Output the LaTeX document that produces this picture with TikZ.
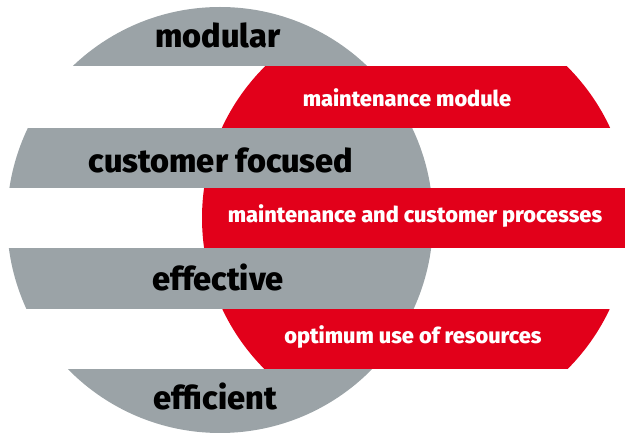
\documentclass[tikz,border=0pt]{standalone}
\usepackage{fontspec}
\setmainfont{Fira Sans}[BoldFont={Fira Sans ExtraBold}]
\definecolor{bandgray}{HTML}{9BA3A7}
\definecolor{bandred}{HTML}{E2001A}

\begin{document}
\begin{tikzpicture}[x=1pt,y=-1pt,
  graytext/.style={anchor=base,inner sep=0pt,text=black,font=\fontsize{32.5}{32.5}\selectfont\bfseries},
  redtext/.style={anchor=base,inner sep=0pt,text=white,font=\fontsize{21.8}{21.8}\selectfont\bfseries}]

\useasboundingbox (0,0) rectangle (625,435);
\clip (0,0) rectangle (625,435);

% grey disc, cut in bands
\begin{scope}
\clip (220,220) circle [radius=213pt];
\fill[bandgray] (0,0) rectangle (625,66);
\fill[bandgray] (0,128) rectangle (625,188);
\fill[bandgray] (0,248) rectangle (625,309);
\fill[bandgray] (0,369) rectangle (625,440);
\end{scope}

% red disc
\begin{scope}
\clip (416,218) circle [radius=214pt];
\fill[bandred] (0,66) rectangle (640,128);
\fill[bandred] (0,188) rectangle (640,248);
\fill[bandred] (0,309) rectangle (640,369);
\end{scope}

\node[graytext] (modular) at (218,48) {modular};
\node[graytext] (customer) at (221,173) {customer focused};
\node[graytext] (effective) at (218,291) {effective};
\node[graytext] (efficient) at (215,410) {efficient};

\node[redtext] (module) at (407,107) {maintenance module};
\node[redtext] (processes) at (415,223) {maintenance and customer processes};
\node[redtext] (resources) at (413,344) {optimum use of resources};

\end{tikzpicture}
\end{document}
